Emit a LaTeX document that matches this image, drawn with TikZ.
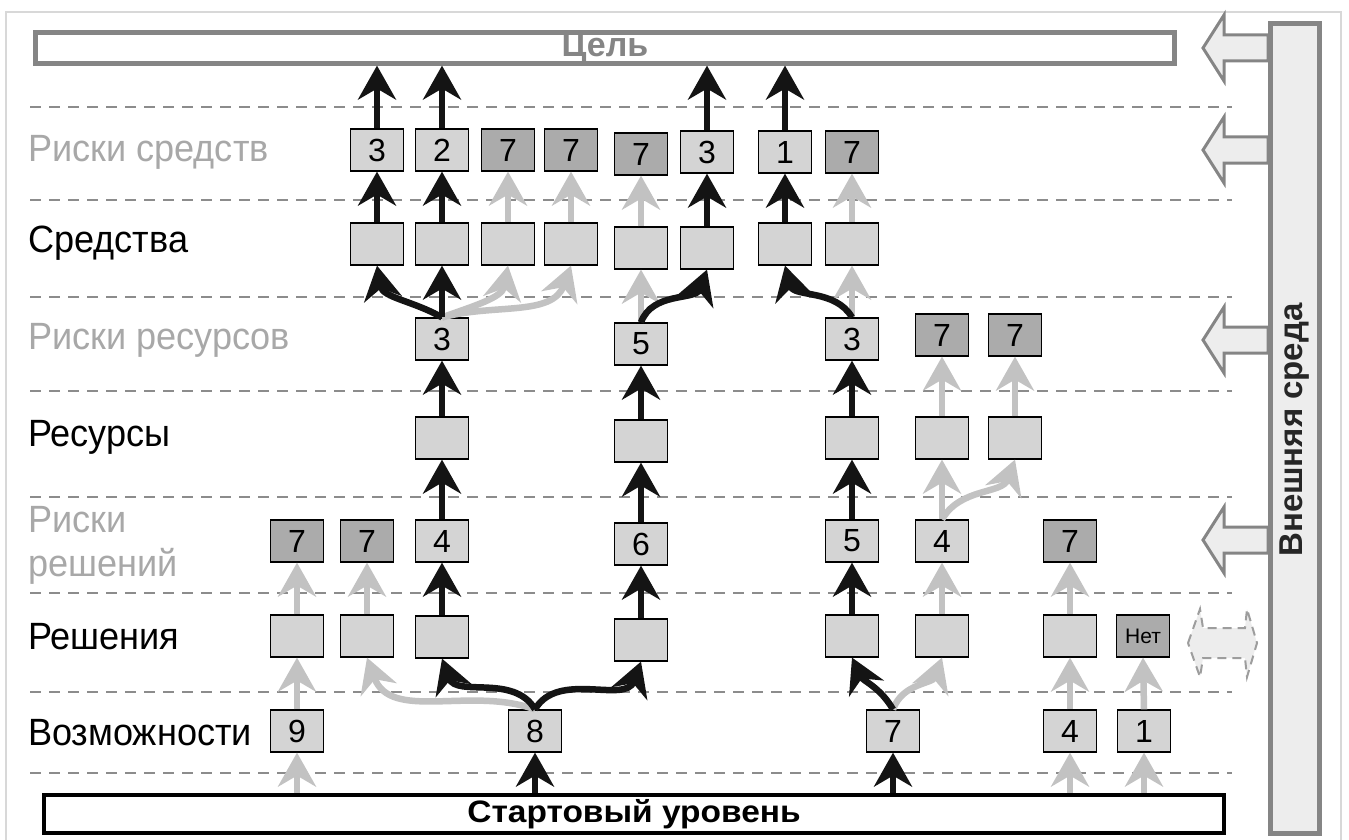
\documentclass[tikz,border=0pt]{standalone}
\usepackage{fontspec}
\setmainfont{Liberation Sans}
\newfontfamily\labfont[FakeStretch=0.95]{Liberation Sans}
\newfontfamily\widefont[FakeStretch=1.08]{Liberation Sans}
\usetikzlibrary{arrows.meta}
\definecolor{boxl}{HTML}{D4D4D4}
\definecolor{boxd}{HTML}{ABABAB}
\definecolor{arrg}{HTML}{C2C2C2}
\definecolor{arrk}{HTML}{141414}
\definecolor{dashc}{HTML}{8C8C8C}
\definecolor{lbl}{HTML}{A8A8A8}
\definecolor{framec}{HTML}{858585}
\definecolor{envfill}{HTML}{EDEDED}
\definecolor{outerc}{HTML}{D8D8D8}
\begin{document}
\begin{tikzpicture}[x=1pt,y=1pt,
  bx/.style={draw=black, line width=1.2pt, fill=boxl, minimum width=53pt, minimum height=42pt, inner sep=0pt, font=\fontsize{32}{32}\selectfont},
  bxd/.style={bx, fill=boxd},
  ka/.style={color=arrk, line width=6.5pt, -{Stealth[length=34pt,width=38pt,inset=11pt]}},
  ga/.style={ka, color=arrg},
  dl/.style={draw=dashc, line width=2.6pt, dash pattern=on 11pt off 8pt},
  lab/.style={anchor=west, inner sep=0pt, align=left, font=\labfont\fontsize{38}{44}\selectfont},
  lbg/.style={lab, text=lbl},
  envar/.style={draw=framec, line width=3pt, fill=envfill, line join=miter}
]
\useasboundingbox (0,0) rectangle (1349,-840);
% outer frame
\draw[outerc, line width=1.5pt] (6,-845) -- (6,-12) -- (1341,-12) -- (1341,-845);
% dashed separators
\foreach \yy in {107,200,297,391,497,593,692,773}
  \draw[dl] (30,-\yy) -- (1232,-\yy);
% goal bar
\node[draw=framec, line width=5pt, fill=white, minimum width=1139pt, minimum height=29pt, inner sep=0pt,
  text=framec, font=\bfseries\fontsize{34}{34}\selectfont] (goal) at (605,-48) {Цель};
% start bar
\node[draw=black, line width=4pt, fill=white, minimum width=1180pt, minimum height=38pt, inner sep=0pt,
  font=\widefont\bfseries\fontsize{31}{31}\selectfont] (start) at (634,-814) {Стартовый уровень};
% environment bar
\node[draw=framec, line width=5pt, fill=envfill, minimum width=49pt, minimum height=810pt, inner sep=0pt] (env) at (1295,-428.5) {};
\node[rotate=90, text=black!85, font=\bfseries\fontsize{33}{33}\selectfont] (envt) at (1295,-430) {Внешняя среда};
% block arrows from environment
\foreach \yy in {48,150,340,540}
  \draw[envar] (1203,-\yy) -- (1224,{-\yy+33}) -- (1224,{-\yy+13}) -- (1268,{-\yy+13})
     -- (1268,{-\yy-13}) -- (1224,{-\yy-13}) -- (1224,{-\yy-33}) -- cycle;
% dashed double arrow
\draw[draw=framec!80, line width=2pt, dash pattern=on 9pt off 6pt, fill=envfill]
  (1188,-643) -- (1200,-609) -- (1203,-628) -- (1245,-628) -- (1247,-609) -- (1257,-643)
  -- (1247,-677) -- (1245,-658) -- (1203,-658) -- (1200,-677) -- cycle;
% row labels
\node[lbg] (l1) at (28,-152) {Риски средств};
\node[lab] (l2) at (28,-243) {Средства};
\node[lbg] (l3) at (28,-340) {Риски ресурсов};
\node[lab] (l4) at (28,-437) {Ресурсы};
\node[lbg] (l5) at (28,-545) {Риски\\решений};
\node[lab] (l6) at (28,-637) {Решения};
\node[lab] (l7) at (28,-733) {Возможности};
% boxes: risks of means
\node[bx] (rs1) at (377,-150) {3};
\node[bx] (rs2) at (442,-150) {2};
\node[bxd] (rs3) at (508,-150) {7};
\node[bxd] (rs4) at (571,-150) {7};
\node[bxd] (rs5) at (641,-154) {7};
\node[bx] (rs6) at (707,-152) {3};
\node[bx] (rs7) at (785,-152) {1};
\node[bxd] (rs8) at (852,-152) {7};
% means
\node[bx] (s1) at (377,-244) {};
\node[bx] (s2) at (442,-244) {};
\node[bx] (s3) at (508,-244) {};
\node[bx] (s4) at (571,-244) {};
\node[bx] (s5) at (641,-248) {};
\node[bx] (s6) at (707,-248) {};
\node[bx] (s7) at (785,-244) {};
\node[bx] (s8) at (852,-244) {};
% risks of resources
\node[bx] (rr1) at (442,-339) {3};
\node[bx] (rr2) at (641,-344) {5};
\node[bx] (rr3) at (852,-339) {3};
\node[bxd] (rr4) at (942,-335) {7};
\node[bxd] (rr5) at (1015,-335) {7};
% resources
\node[bx] (r1) at (442,-438) {};
\node[bx] (r2) at (641,-441) {};
\node[bx] (r3) at (852,-438) {};
\node[bx] (r4) at (942,-438) {};
\node[bx] (r5) at (1015,-438) {};
% risks of decisions
\node[bxd] (rd1) at (297,-541) {7};
\node[bxd] (rd2) at (367,-541) {7};
\node[bx] (rd3) at (442,-541) {4};
\node[bx] (rd4) at (641,-544) {6};
\node[bx] (rd5) at (852,-541) {5};
\node[bx] (rd6) at (942,-541) {4};
\node[bxd] (rd7) at (1070,-541) {7};
% decisions
\node[bx] (d1) at (297,-636) {};
\node[bx] (d2) at (367,-636) {};
\node[bx] (d3) at (442,-637) {};
\node[bx] (d4) at (641,-640) {};
\node[bx] (d5) at (852,-636) {};
\node[bx] (d6) at (942,-636) {};
\node[bx] (d7) at (1070,-636) {};
\node[bxd, font=\fontsize{21}{21}\selectfont] (d8) at (1143,-636) {Нет};
% opportunities
\node[bx] (v1) at (297,-731) {9};
\node[bx] (v2) at (535,-731) {8};
\node[bx] (v3) at (893,-731) {7};
\node[bx] (v4) at (1070,-731) {4};
\node[bx] (v5) at (1144,-731) {1};
% ---- gray arrows
\draw[ga] (v1 |- start.north) -- (v1.south);
\draw[ga] (v4 |- start.north) -- (v4.south);
\draw[ga] (v5 |- start.north) -- (v5.south);
\draw[ga] (v1.north) -- (d1.south);
\draw[ga] (v2.north) to[out=160,in=-70] (d2.south);
\draw[ga] (v3.north) to[out=70,in=-110] (d6.south);
\draw[ga] (v4.north) -- (d7.south);
\draw[ga] (v5.north) -- (d8.south);
\draw[ga] (d1.north) -- (rd1.south);
\draw[ga] (d2.north) -- (rd2.south);
\draw[ga] (d6.north) -- (rd6.south);
\draw[ga] (d7.north) -- (rd7.south);
\draw[ga] (rd6.north) -- (r4.south);
\draw[ga] (rd6.north) to[out=60,in=-110] (r5.south);
\draw[ga] (r4.north) -- (rr4.south);
\draw[ga] (r5.north) -- (rr5.south);
\draw[ga] (rr1.north) to[out=20,in=-100] (s3.south);
\draw[ga] (rr1.north) to[out=15,in=-110] (s4.south);
\draw[ga] (rr2.north) -- (s5.south);
\draw[ga] (rr3.north) -- (s8.south);
\draw[ga] (s3.north) -- (rs3.south);
\draw[ga] (s4.north) -- (rs4.south);
\draw[ga] (s5.north) -- (rs5.south);
\draw[ga] (s8.north) -- (rs8.south);
% ---- black arrows
\draw[ka] (v2 |- start.north) -- (v2.south);
\draw[ka] (v3 |- start.north) -- (v3.south);
\draw[ka] (v2.north) to[out=120,in=-70] (d3.south);
\draw[ka] (v2.north) to[out=60,in=-110] (d4.south);
\draw[ka] (v3.north) to[out=120,in=-65] (d5.south);
\draw[ka] (d3.north) -- (rd3.south);
\draw[ka] (d4.north) -- (rd4.south);
\draw[ka] (d5.north) -- (rd5.south);
\draw[ka] (rd3.north) -- (r1.south);
\draw[ka] (rd4.north) -- (r2.south);
\draw[ka] (rd5.north) -- (r3.south);
\draw[ka] (r1.north) -- (rr1.south);
\draw[ka] (r2.north) -- (rr2.south);
\draw[ka] (r3.north) -- (rr3.south);
\draw[ka] (rr1.north) to[out=150,in=-80] (s1.south);
\draw[ka] (rr1.north) -- (s2.south);
\draw[ka] (rr2.north) to[out=70,in=-110] (s6.south);
\draw[ka] (rr3.north) to[out=120,in=-75] (s7.south);
\draw[ka] (s1.north) -- (rs1.south);
\draw[ka] (s2.north) -- (rs2.south);
\draw[ka] (s6.north) -- (rs6.south);
\draw[ka] (s7.north) -- (rs7.south);
\draw[ka] (rs1.north) -- (rs1 |- goal.south);
\draw[ka] (rs2.north) -- (rs2 |- goal.south);
\draw[ka] (rs6.north) -- (rs6 |- goal.south);
\draw[ka] (rs7.north) -- (rs7 |- goal.south);
\end{tikzpicture}
\end{document}
